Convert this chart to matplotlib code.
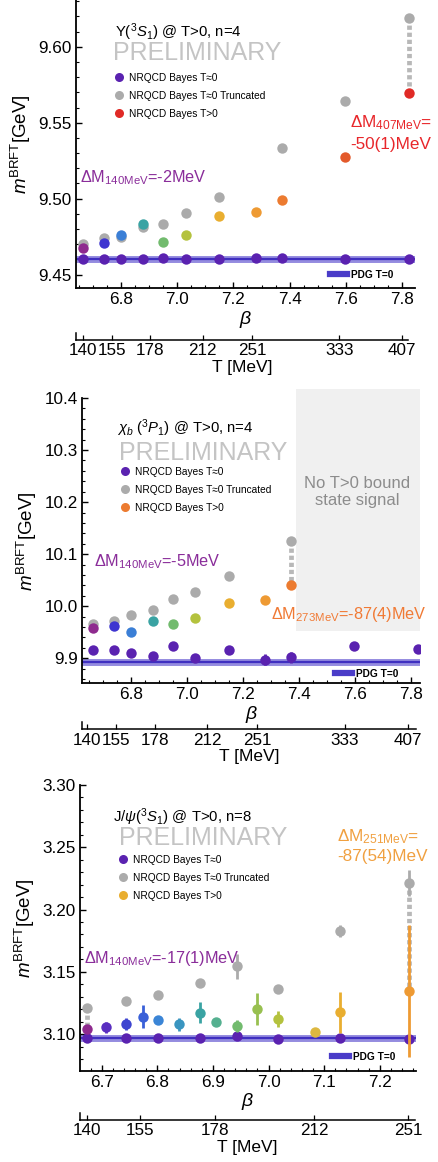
import numpy as np
import matplotlib
matplotlib.use('Agg')
import matplotlib.pyplot as plt
from matplotlib.lines import Line2D
from matplotlib.patches import Rectangle
from matplotlib.ticker import MultipleLocator, FormatStrFormatter

nan = np.nan
plt.rcParams['font.family'] = ['Liberation Sans', 'DejaVu Sans']
plt.rcParams['mathtext.fontset'] = 'custom'
plt.rcParams['mathtext.rm'] = 'Liberation Sans'
plt.rcParams['mathtext.it'] = 'Liberation Sans:italic'
plt.rcParams['mathtext.bf'] = 'Liberation Sans:bold'

# ---------------- data ----------------
# Panel 1: Upsilon(3S1), n=4
beta1 = [6.664, 6.740, 6.800, 6.880, 6.950, 7.030, 7.150, 7.280, 7.373, 7.596, 7.825]
ups_T0 = [9.460, 9.460, 9.460, 9.460, 9.461, 9.460, 9.460, 9.461, 9.461, 9.460, 9.460]
ups_trunc = [9.4704, 9.4741, 9.4745, 9.4813, 9.4836, 9.4906, 9.5011, nan, 9.5334, 9.5642, 9.6190]
ups_Tpos = [9.4678, 9.4708, 9.4759, 9.4836, 9.4714, 9.4763, 9.4884, 9.4912, 9.4990, 9.5275, 9.5693]
ups_Tpos_err = [0, 0, 0, 0, 0, 0, 0, 0, 0.0015, 0, 0]
ups_pdg = 9.4603
ups_hatch = [10]

# Panel 2: chi_b(3P1), n=4
beta2 = [6.664, 6.740, 6.800, 6.880, 6.950, 7.030, 7.150, 7.280, 7.373, 7.596, 7.825]
chi_T0 = [9.916, 9.916, 9.911, 9.904, 9.923, 9.900, 9.916, 9.8975, 9.902, 9.924, 9.918]
chi_T0_err = [0, 0, 0, 0, 0, 0, 0, 0.010, 0.0105, 0, 0]
chi_trunc = [9.966, 9.972, 9.984, 9.992, 10.014, 10.027, 10.059, nan, 10.126, nan, nan]
chi_Tpos = [9.958, 9.962, 9.950, 9.971, 9.965, 9.978, 10.006, 10.012, 10.040, nan, nan]
chi_pdg = 9.8928
chi_hatch = [8]
nosignal_beta = (7.39, 7.833)
nosignal_m = (9.953, 10.417)

# Panel 3: J/psi(3S1), n=8
beta3 = [6.674, 6.707, 6.744, 6.774, 6.802, 6.839, 6.877, 6.905, 6.943, 6.980, 7.017, 7.083, 7.129, 7.253]
jpsi_T0 = [3.0966, nan, 3.0966, nan, 3.0966, nan, 3.0970, nan, 3.0984, nan, 3.0962, nan, 3.0966, 3.0960]
jpsi_trunc = [3.1206, nan, 3.1267, nan, 3.1313, nan, 3.1407, nan, 3.1546, nan, 3.1359, nan, 3.1827, 3.2214]
jpsi_trunc_err = [0, 0, 0, 0, 0, 0, 0, 0, 0.010, 0, 0, 0, 0.005, 0.0104]
jpsi_Tpos = [3.1038, 3.1054, 3.1080, 3.1139, 3.1112, 3.1078, 3.1171, 3.1096, 3.1064, 3.1200, 3.1120, 3.1018, 3.1174, 3.1348]
jpsi_Tpos_err = [0, 0.0044, 0.0050, 0.0091, 0.002, 0.0050, 0.0083, 0.002, 0.0050, 0.0131, 0.0064, 0.001, 0.0165, 0.053]
jpsi_pdg = 3.0969
jpsi_hatch = [0, 13]

# Temperature axes
T_labels12 = ['140', '155', '178', '212', '251', '333', '407']
T_beta12 = [6.664, 6.770, 6.910, 7.100, 7.280, 7.596, 7.825]
T_labels3 = ['140', '155', '178', '212', '251']
T_beta3 = [6.674, 6.770, 6.905, 7.083, 7.253]

# ---------------- styles ----------------
PURPLE = '#5A22B0'
GRAY = '#ABABAB'
PDGC = '#4A3CC8'
cols1 = ['#8E2A8E', '#3E35D0', '#3B7FD6', '#3AA3A3', '#72BB6E', '#B4C23E',
         '#E9AE30', '#EE9A33', '#EC7B30', '#E35A2B', '#E02A26']
cols2 = cols1[:9]
cols3 = ['#8E2A8E', '#5A2EC0', '#3E45D0', '#3A60D8', '#3B85D6', '#3A95C0', '#3AA3A3',
         '#55B090', '#72BB6E', '#98C050', '#B4C23E', '#DDB840', '#E9AE30', '#EE9A33']

W, H = 438, 1162
fig = plt.figure(figsize=(W / 100, H / 100), dpi=100)


def rect(l, t, r, b):
    return [l / W, 1 - b / H, (r - l) / W, (b - t) / H]


def ftext(x, y, s, **kw):
    kw.setdefault('va', 'center')
    kw.setdefault('ha', 'left')
    fig.text(x / W, 1 - y / H, s, **kw)


def main_axes(r, xlim, ylim, xmaj, xmin, ymaj, ymin, yfmt):
    ax = fig.add_axes(r)
    ax.set_xlim(xlim)
    ax.set_ylim(ylim)
    for s in ['top', 'right']:
        ax.spines[s].set_visible(False)
    for s in ['left', 'bottom']:
        ax.spines[s].set_linewidth(1.3)
    ax.xaxis.set_major_locator(MultipleLocator(xmaj))
    ax.xaxis.set_minor_locator(MultipleLocator(xmin))
    ax.yaxis.set_major_locator(MultipleLocator(ymaj))
    ax.yaxis.set_minor_locator(MultipleLocator(ymin))
    ax.yaxis.set_major_formatter(FormatStrFormatter(yfmt))
    ax.xaxis.set_major_formatter(FormatStrFormatter('%.1f'))
    ax.tick_params(which='both', direction='in', top=False, right=False)
    ax.tick_params(which='major', length=4.5, width=1.0, labelsize=12.3)
    ax.tick_params(axis='y', which='major', pad=3)
    ax.tick_params(axis='x', which='major', pad=3)
    ax.tick_params(which='minor', length=2.5, width=0.8)
    ax.set_xlabel(r'$\beta$', fontsize=14, labelpad=1)
    ax.set_ylabel(r'$m^{\mathrm{BRFT}}$[GeV]', fontsize=13.5)
    ax.patch.set_alpha(0)
    return ax


def t_axes(r, xlim, pos, labels):
    axt = fig.add_axes(r)
    axt.set_xlim(xlim)
    axt.set_ylim(0, 1)
    for s in ['top', 'right']:
        axt.spines[s].set_visible(False)
    axt.spines['bottom'].set_linewidth(1.1)
    axt.spines['left'].set_linewidth(1.1)
    axt.set_yticks([])
    axt.set_xticks(pos)
    axt.set_xticklabels(labels)
    axt.tick_params(axis='x', direction='in', length=3.5, width=0.9, labelsize=12.3, pad=2.5)
    axt.set_xlabel('T [MeV]', fontsize=12.5, labelpad=1)
    axt.patch.set_alpha(0)
    return axt


def draw_points(ax, beta, T0, trunc, tpos, cols, T0_err=None, trunc_err=None, tpos_err=None, hatch=()):
    n = len(beta)
    T0_err = T0_err or [0] * n
    trunc_err = trunc_err or [0] * n
    tpos_err = tpos_err or [0] * n
    for i in hatch:
        ax.plot([beta[i], beta[i]], [trunc[i], tpos[i]], color='#B8B8B8', lw=3.4,
                dashes=(0.9, 0.6), solid_capstyle='butt', zorder=2)
    for i in range(n):
        if not np.isnan(trunc[i]):
            ax.errorbar(beta[i], trunc[i], yerr=trunc_err[i] if trunc_err[i] else None, fmt='o',
                        ms=7.5, mew=0, color=GRAY, ecolor=GRAY, elinewidth=2, capsize=2,
                        capthick=1.5, zorder=3)
    for i in range(n):
        if not np.isnan(T0[i]):
            ax.errorbar(beta[i], T0[i], yerr=T0_err[i] if T0_err[i] else None, fmt='o',
                        ms=7.5, mew=0, color=PURPLE, ecolor=PURPLE, elinewidth=2, capsize=2,
                        capthick=1.5, zorder=4)
    for i in range(n):
        if not np.isnan(tpos[i]):
            ax.errorbar(beta[i], tpos[i], yerr=tpos_err[i] if tpos_err[i] else None, fmt='o',
                        ms=7.5, mew=0, color=cols[i], ecolor=cols[i], elinewidth=2, capsize=2,
                        capthick=1.5, zorder=5)


def pdg_line(ax, val):
    ax.axhline(val, color='#7A6FD8', lw=5.0, alpha=0.8, zorder=1.5)
    ax.axhline(val, color='#3F2FC0', lw=1.6, zorder=1.6)


def legends(ax, x, ytop, tcol, pdgx, pdgy, pdglabel):
    h = [Line2D([], [], ls='none', marker='o', ms=6.5, mew=0, color=PURPLE),
         Line2D([], [], ls='none', marker='o', ms=6.5, mew=0, color=GRAY),
         Line2D([], [], ls='none', marker='o', ms=6.5, mew=0, color=tcol)]
    labs = ['NRQCD Bayes T≈0', 'NRQCD Bayes T≈0 Truncated', 'NRQCD Bayes T>0']
    lg = ax.legend(h, labs, loc='upper left', bbox_to_anchor=(x / W, 1 - ytop / H),
                   bbox_transform=fig.transFigure, frameon=False, fontsize=7.3,
                   handlelength=0.8, handletextpad=0.55, labelspacing=0.78,
                   borderpad=0, borderaxespad=0)
    ax.add_artist(lg)
    h2 = [Line2D([], [], color=PDGC, lw=4.5)]
    ax.legend(h2, [pdglabel], loc='center left', bbox_to_anchor=(pdgx / W, 1 - pdgy / H),
              bbox_transform=fig.transFigure, frameon=False,
              prop={'size': 7.3, 'weight': 'bold'},
              handlelength=1.7, handletextpad=0.4, borderpad=0, borderaxespad=0)


# ---------------- Panel 1 ----------------
ax1 = main_axes(rect(76, 0, 415, 288.3), (6.640, 7.846), (9.4410, 9.6308),
                0.2, 0.05, 0.05, 0.01, '%.2f')
pdg_line(ax1, ups_pdg)
draw_points(ax1, beta1, ups_T0, ups_trunc, ups_Tpos, cols1, tpos_err=ups_Tpos_err, hatch=ups_hatch)
legends(ax1, 115, 73, '#E02A26', 330, 275, 'PDG T=0')
t_axes(rect(76, 333, 408, 340), (6.640, 7.846), T_beta12, T_labels12)
ftext(115, 32, r'Υ($^{3}S_{1}$) @ T>0, n=4', fontsize=10.7)
ftext(113, 53, 'PRELIMINARY', fontsize=18, color='#C4C4C4')
ftext(80, 178, r'ΔM$_{\mathrm{140MeV}}$=-2MeV', fontsize=11.7, color='#8A2D9A')
ftext(350, 123, r'ΔM$_{\mathrm{407MeV}}$=', fontsize=12.3, color='#E8262A')
ftext(350, 144, '-50(1)MeV', fontsize=12.3, color='#E8262A')

# ---------------- Panel 2 ----------------
ax2 = main_axes(rect(82.3, 398, 420, 683.3), (6.627, 7.833), (9.852, 10.4),
                0.2, 0.05, 0.1, 0.02, '%.1f')
ax2.add_patch(Rectangle((nosignal_beta[0], nosignal_m[0]), nosignal_beta[1] - nosignal_beta[0],
                        nosignal_m[1] - nosignal_m[0], facecolor='#F0F0F0', edgecolor='none',
                        zorder=0.5, clip_on=False))
pdg_line(ax2, chi_pdg)
draw_points(ax2, beta2, chi_T0, chi_trunc, chi_Tpos, cols2, T0_err=chi_T0_err, hatch=chi_hatch)
legends(ax2, 121, 467, '#EC7B30', 335, 674, 'PDG T=0')
t_axes(rect(82.3, 722, 416, 729.3), (6.648, 7.853), T_beta12, T_labels12)
ftext(117, 428, r'$\chi_b$ ($^{3}P_{1}$) @ T>0, n=4', fontsize=10.7)
ftext(119, 453, 'PRELIMINARY', fontsize=18, color='#C4C4C4')
ftext(357, 492, 'No T>0 bound\nstate signal', fontsize=12, color='#8C8C8C', ha='center',
      linespacing=1.25)
ftext(94, 562, r'ΔM$_{\mathrm{140MeV}}$=-5MeV', fontsize=11.7, color='#8A2D9A')
ftext(271, 615, r'ΔM$_{\mathrm{273MeV}}$=-87(4)MeV', fontsize=11.7, color='#F07A35')

# ---------------- Panel 3 ----------------
ax3 = main_axes(rect(80, 785, 416, 1070.7), (6.661, 7.265), (3.0706, 3.30),
                0.1, 0.02, 0.05, 0.01, '%.2f')
pdg_line(ax3, jpsi_pdg)
draw_points(ax3, beta3, jpsi_T0, jpsi_trunc, jpsi_Tpos, cols3, trunc_err=jpsi_trunc_err,
            tpos_err=jpsi_Tpos_err, hatch=jpsi_hatch)
legends(ax3, 119, 855, '#E9AE30', 332, 1057, 'PDG T=0')
t_axes(rect(80, 1113, 415, 1120), (6.661, 7.265), T_beta3, T_labels3)
ftext(113, 817, r'J/$\psi$($^{3}S_{1}$) @ T>0, n=8', fontsize=10.7)
ftext(119, 838, 'PRELIMINARY', fontsize=18, color='#C4C4C4')
ftext(84, 958, r'ΔM$_{\mathrm{140MeV}}$=-17(1)MeV', fontsize=11.7, color='#8A2D9A')
ftext(337, 837, r'ΔM$_{\mathrm{251MeV}}$=', fontsize=12.3, color='#F0A040')
ftext(337, 856, '-87(54)MeV', fontsize=12.3, color='#F0A040')

fig.savefig('out.png', dpi=100)
